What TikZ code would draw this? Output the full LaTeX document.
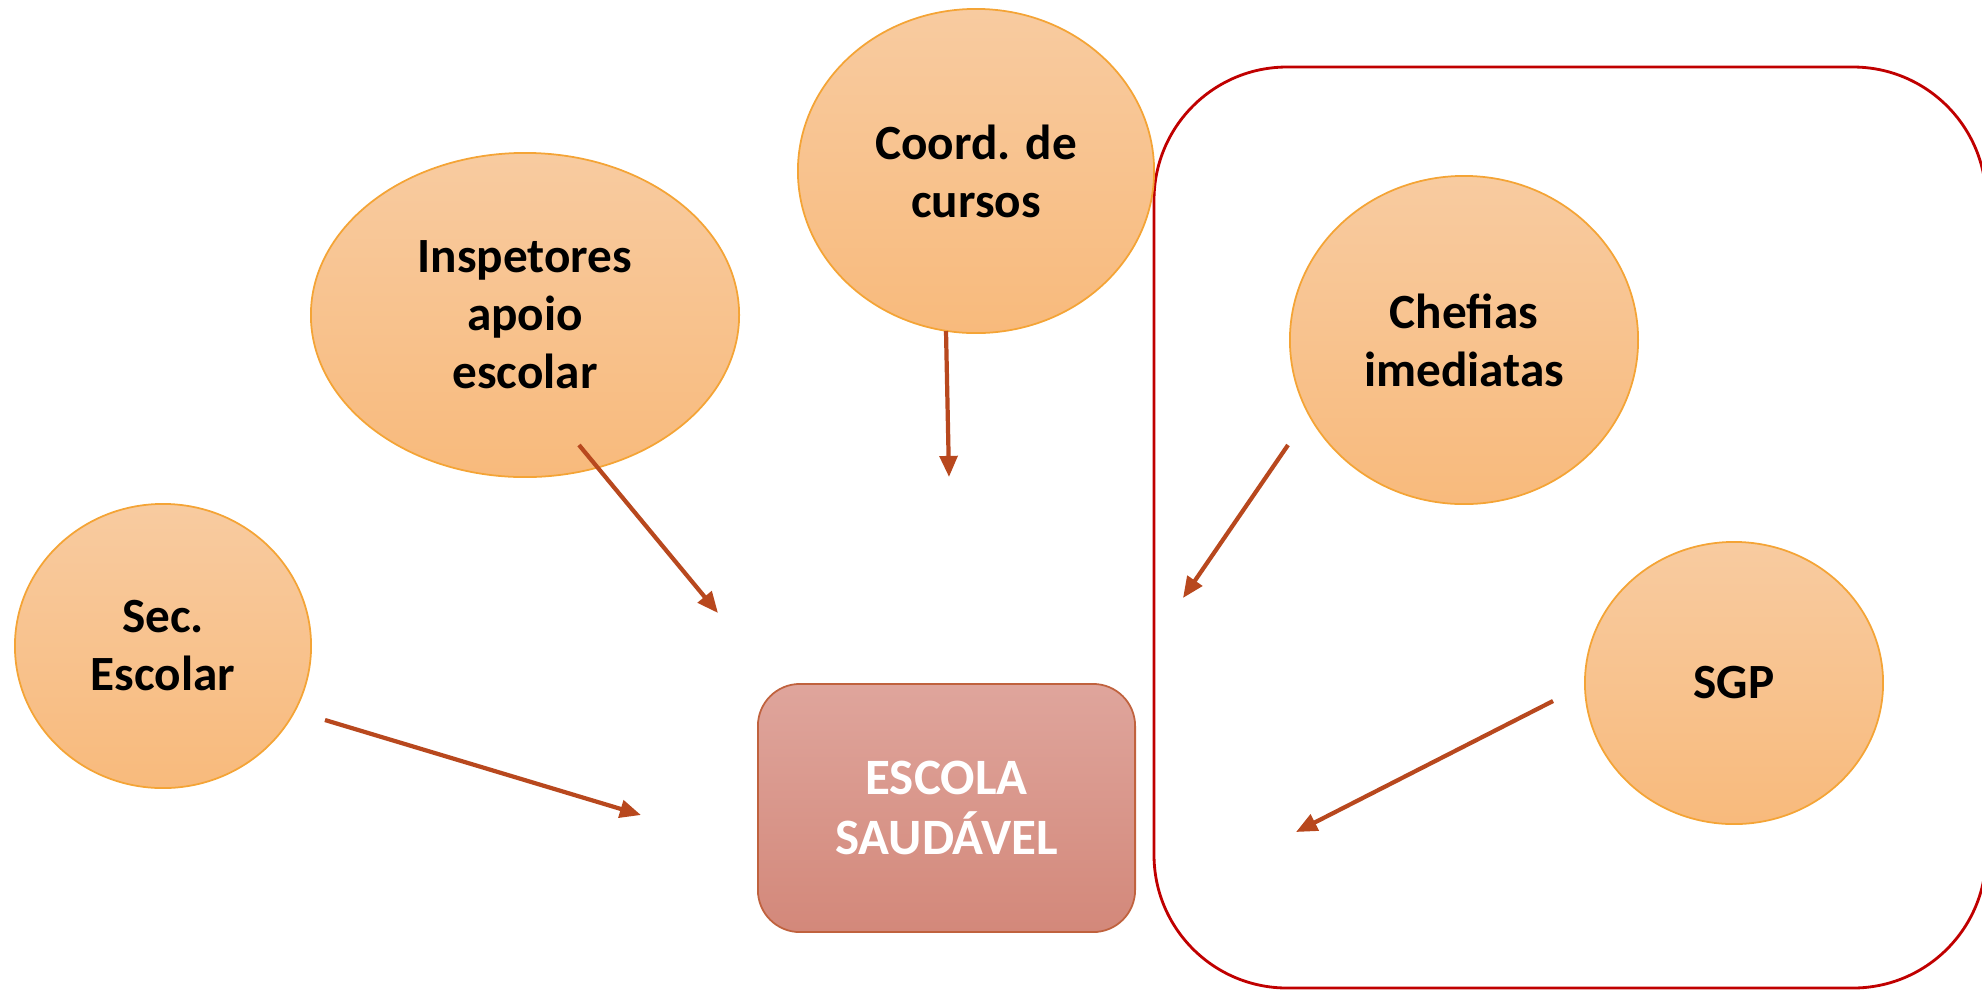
\documentclass[tikz,border=0pt]{standalone}
\usepackage{fontspec}
\setmainfont{Carlito}
\usetikzlibrary{shapes.geometric,arrows.meta,positioning}
\definecolor{ellTop}{HTML}{F8CBA0}
\definecolor{ellBot}{HTML}{F8BA7C}
\definecolor{ellLine}{HTML}{F4A436}
\definecolor{boxTop}{HTML}{DFA59C}
\definecolor{boxBot}{HTML}{D3887A}
\definecolor{boxLine}{HTML}{C0623E}
\definecolor{arrCol}{HTML}{B8481E}
\definecolor{frameCol}{HTML}{C00000}

\begin{document}
\begin{tikzpicture}
    \tikzset{x=0.01cm,y=-0.01cm,every path/.style={>={Triangle[length=6pt,width=5pt]}},
      ell/.style={ellipse,draw=ellLine,line width=0.5pt,top color=ellTop,bottom color=ellBot,inner sep=0pt,align=center,font=\fontsize{14}{16.5}\selectfont\bfseries},
      schoolbox/.style={rectangle,rounded corners=0.42cm,draw=boxLine,line width=0.5pt,top color=boxTop,bottom color=boxBot,text=white,align=center,font=\fontsize{14.5}{17}\selectfont\bfseries},
      arr/.style={->,draw=arrCol,line width=1.2pt}}
    \useasboundingbox (0,0) rectangle (1982,990);
%    frame round the right group
    \draw[frameCol,line width=0.8pt,rounded corners=1.33cm] (1154,67) rectangle (1986,988);
    \node [ell,minimum width=2.96cm,minimum height=2.84cm] (sec)   at (163,646)  {Sec.\\Escolar};
    \node [ell,minimum width=4.28cm,minimum height=3.24cm] (insp)  at (525,315)  {Inspetores\\apoio\\escolar};
    \node [ell,minimum width=3.56cm,minimum height=3.24cm] (coord) at (976,171)  {Coord. de\\cursos};
    \node [ell,minimum width=3.48cm,minimum height=3.28cm] (chef)  at (1464,340) {Chefias\\imediatas};
    \node [ell,minimum width=2.98cm,minimum height=2.82cm] (sgp)   at (1734,683) {SGP};
    \node [schoolbox,minimum width=3.77cm,minimum height=2.48cm] (escola) at (946.5,808) {ESCOLA\\SAUDÁVEL};
%    free ends of the arrows
    \coordinate (secA)   at (325,720);  \coordinate (secB)   at (641,815);
    \coordinate (inspA)  at (579,445);  \coordinate (inspB)  at (718,613);
    \coordinate (coordA) at (946,331);  \coordinate (coordB) at (949,477);
    \coordinate (chefA)  at (1288,445); \coordinate (chefB)  at (1183,598);
    \coordinate (sgpA)   at (1553,701); \coordinate (sgpB)   at (1296,832);
    \foreach \n in {sec,insp,coord,chef,sgp}
      {\draw[arr] (\n A) -- (\n B);}
\end{tikzpicture}
\end{document}
